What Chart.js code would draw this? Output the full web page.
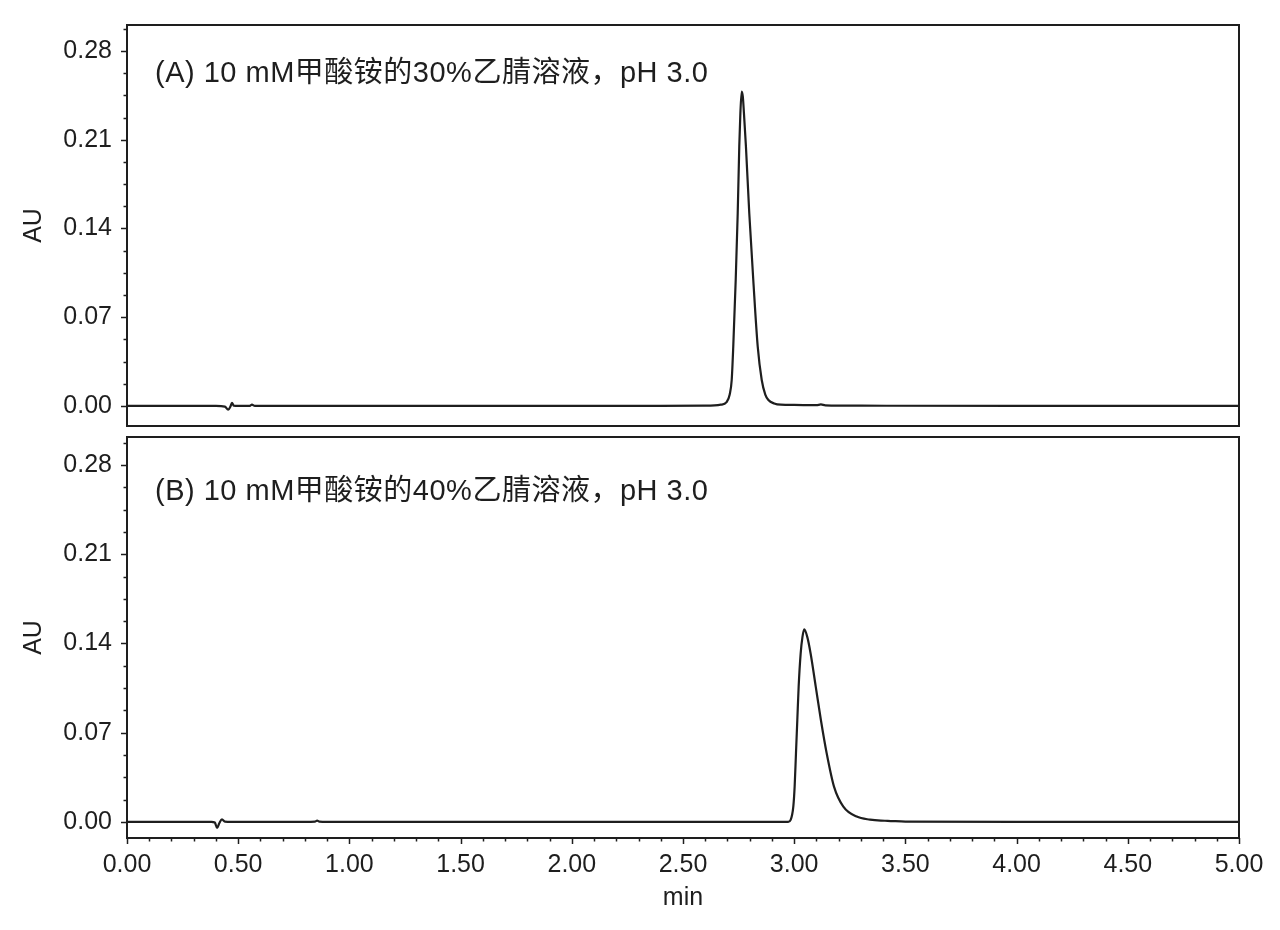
<!DOCTYPE html>
<html lang="zh">
<head>
<meta charset="UTF-8">
<title>Chromatograms</title>
<script src="https://cdn.jsdelivr.net/npm/chart.js@4.4.0/dist/chart.umd.min.js"></script>
<style>
  body { margin: 0; background: #fff; }
  #wrapA { position: absolute; left: 0; top: 0; }
  #wrapB { position: absolute; left: 0; top: 400px; }
</style>
</head>
<body>
<div id="wrapA"><canvas id="chartA" width="1280" height="441"></canvas></div>
<div id="wrapB"><canvas id="chartB" width="1280" height="530"></canvas></div>
<script>
// panel A: 30% acetonitrile
const timeA = [0, 0.40, 0.44, 0.455, 0.465, 0.472, 0.48, 0.50, 0.55, 0.562, 0.575, 1.5, 2.40, 2.60, 2.67, 2.696, 2.710, 2.719, 2.726, 2.737, 2.746, 2.753, 2.758, 2.764, 2.769, 2.774, 2.783, 2.798, 2.816, 2.836, 2.854, 2.870, 2.884, 2.91, 2.94, 3.00, 3.10, 3.12, 3.14, 3.30, 4.00, 5.00];
const auA = [0, 0, -0.0005, -0.003, -0.0005, 0.0025, 0.0003, 0, 0, 0.001, 0, 0, 0, 0.0002, 0.001, 0.003, 0.009, 0.0205, 0.0468, 0.0994, 0.152, 0.2046, 0.231, 0.248, 0.244, 0.231, 0.2046, 0.152, 0.0994, 0.0468, 0.0205, 0.009, 0.0047, 0.002, 0.001, 0.0008, 0.0006, 0.0012, 0.0005, 0.0002, 0, 0];

// panel B: 40% acetonitrile
const timeB = [0, 0.38, 0.395, 0.405, 0.415, 0.427, 0.44, 0.47, 0.80, 0.845, 0.855, 0.865, 0.90, 2.00, 2.90, 2.973, 2.984, 2.996, 3.002, 3.008, 3.014, 3.020, 3.029, 3.037, 3.045, 3.059, 3.074, 3.097, 3.120, 3.146, 3.179, 3.221, 3.281, 3.341, 3.39, 3.42, 3.50, 4.00, 5.00];
const auB = [0, 0, -0.0005, -0.0047, -0.001, 0.002, 0.0002, 0, 0, 0.0003, 0.001, 0.0002, 0, 0, 0, 0, 0.0016, 0.012, 0.0277, 0.0539, 0.080, 0.106, 0.132, 0.145, 0.151, 0.145, 0.132, 0.106, 0.080, 0.0539, 0.0277, 0.012, 0.0042, 0.0018, 0.001, 0.0009, 0.0003, 0, 0];

const labelA = '(A) 10 mM甲酸铵的30%乙腈溶液，pH 3.0';
const labelB = '(B) 10 mM甲酸铵的40%乙腈溶液，pH 3.0';

const yMajor = 0.07, yMinor = 0.0175;
const xMajor = 0.5, xMinor = 0.1;

const FONT = '"Liberation Sans", Arial, "Noto Sans CJK SC", sans-serif';
const INK = '#1e1e1e';
const CLEAR = 'rgba(0,0,0,0)';

// frame, tick marks (major + minor) and panel caption
const framePlugin = {
  id: 'frame',
  afterDraw(chart, args, opts) {
    const {ctx, chartArea: a, scales} = chart;
    ctx.save();
    ctx.strokeStyle = INK;
    ctx.lineWidth = 2;
    ctx.strokeRect(a.left, a.top, a.right - a.left, a.bottom - a.top);
    ctx.lineWidth = 1.5;
    const y = scales.y;
    for (let k = -2; k <= 20; k++) {
      const v = k * yMinor;
      if (v < y.min || v > y.max) continue;
      const len = k % 4 === 0 ? 6 : 3.5;
      const py = Math.round(y.getPixelForValue(v)) + 0.5;
      ctx.beginPath(); ctx.moveTo(a.left - len, py); ctx.lineTo(a.left, py); ctx.stroke();
    }
    if (opts.xTicks) {
      const x = scales.x;
      for (let k = 0; k <= 50; k++) {
        const v = k * xMinor;
        const len = k % 5 === 0 ? 6 : 3.5;
        const px = Math.round(x.getPixelForValue(v)) + 0.5;
        ctx.beginPath(); ctx.moveTo(px, a.bottom); ctx.lineTo(px, a.bottom + len); ctx.stroke();
      }
    }
    ctx.fillStyle = INK;
    ctx.font = '29px ' + FONT;
    ctx.letterSpacing = '0.5px';
    ctx.textBaseline = 'middle';
    ctx.fillText(opts.label, a.left + 28, a.top + opts.labelDy);
    ctx.restore();
  }
};

function makeChart(id, times, values, cfg) {
  const pts = times.map((t, i) => ({x: t, y: values[i]}));
  return new Chart(document.getElementById(id), {
    type: 'line',
    data: {
      datasets: [{
        data: pts,
        borderColor: INK,
        borderWidth: 2.2,
        pointRadius: 0,
        fill: false,
        cubicInterpolationMode: 'monotone'
      }]
    },
    options: {
      responsive: false,
      animation: false,
      devicePixelRatio: 1,
      layout: {padding: cfg.padding},
      plugins: {
        legend: {display: false},
        tooltip: {enabled: false},
        frame: {label: cfg.label, labelDy: cfg.labelDy, xTicks: cfg.showX}
      },
      scales: {
        x: {
          type: 'linear',
          min: 0, max: 5,
          display: cfg.showX,
          grid: {display: true, drawOnChartArea: false, drawTicks: true, tickLength: 12, color: CLEAR},
          border: {display: false},
          afterFit: s => { s.height = cfg.showX ? 92 : 0; },
          ticks: {
            stepSize: xMajor,
            padding: 0,
            color: INK,
            font: {family: FONT, size: 25},
            maxRotation: 0,
            callback: v => Number(v).toFixed(2)
          },
          title: {
            display: true, text: 'min', color: INK,
            font: {family: FONT, size: 25},
            padding: {top: 0, bottom: 17}
          }
        },
        y: {
          min: cfg.yMin, max: cfg.yMax,
          grid: {display: true, drawOnChartArea: false, drawTicks: true, tickLength: 15, color: CLEAR},
          border: {display: false},
          afterFit: s => { s.width = 127; },
          ticks: {
            stepSize: yMajor,
            includeBounds: false,
            padding: 0,
            color: INK,
            font: {family: FONT, size: 25},
            callback: v => Number(v).toFixed(2)
          },
          title: {
            display: true, text: 'AU', color: INK,
            font: {family: FONT, size: 25},
            padding: {top: 19, bottom: 0}
          }
        }
      }
    },
    plugins: [framePlugin]
  });
}

makeChart('chartA', timeA, auA, {
  padding: {top: 25, right: 41, bottom: 15, left: 0},
  yMin: -0.0158, yMax: 0.3005,
  showX: false, label: labelA, labelDy: 49
});
makeChart('chartB', timeB, auB, {
  padding: {top: 37, right: 41, bottom: 0, left: 0},
  yMin: -0.0126, yMax: 0.302,
  showX: true, label: labelB, labelDy: 55
});
</script>
</body>
</html>
